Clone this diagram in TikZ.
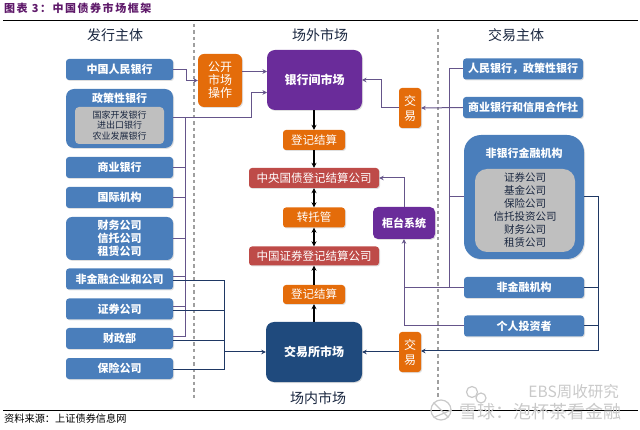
\documentclass[tikz,border=0pt]{standalone}
\usepackage{fontspec}
\setmainfont{Noto Sans CJK SC}
\newfontfamily\titlefont[LetterSpace=14]{Noto Sans CJK SC}
\usetikzlibrary{arrows.meta,shadows}
\definecolor{bankblue}{HTML}{4A7EBB}
\definecolor{bankorange}{HTML}{E46C0A}
\definecolor{bankpurple}{HTML}{6A2C9A}
\definecolor{banknavy}{HTML}{1F4A7D}
\definecolor{bankred}{HTML}{BE4B48}
\definecolor{bankgrey}{HTML}{BFBFBF}
\definecolor{linepurple}{HTML}{65558A}
\definecolor{linenavy}{HTML}{1F3864}
\definecolor{headtext}{HTML}{1A2740}
\definecolor{titletext}{HTML}{5F1A6A}
\definecolor{marktext}{HTML}{C9C9C9}
\newcommand{\fsize}[1]{\fontsize{#1}{#1}\selectfont}
\tikzset{
    boxbase/.style={inner sep=0pt,align=center,text=white,
        drop shadow={shadow xshift=1pt,shadow yshift=-1pt,opacity=0.25}},
    bluebox/.style={boxbase,fill=bankblue,rounded corners=3pt,font=\fsize{11}\bfseries},
    orangebox/.style={boxbase,fill=bankorange,rounded corners=3pt,font=\fsize{11.5}},
    redbox/.style={boxbase,fill=bankred,rounded corners=3pt,font=\fsize{11.5}},
    greybox/.style={inner sep=0pt,align=center,fill=bankgrey,text=headtext},
    headlabel/.style={inner sep=0pt,text=headtext,font=\fsize{14}},
    purpleline/.style={draw=linepurple,line width=1pt},
    navyline/.style={draw=linenavy,line width=1pt},
    flowarrow/.style={-{Stealth[length=4.5pt,width=4.5pt]}},
    blackarrow/.style={draw=black,line width=1.4pt,-{Stealth[length=5pt,width=5pt]}},
    bothblack/.style={draw=black,line width=1.4pt,{Stealth[length=5pt,width=5pt]}-{Stealth[length=5pt,width=5pt]}},
    guide/.style={draw=gray!75,line width=1.1pt,dashed,dash pattern=on 3.5pt off 3pt},
    markline/.style={draw=marktext,line width=1.2pt}
}
\begin{document}
\begin{tikzpicture}[x=1pt,y=-1pt]
    \useasboundingbox (0,0) rectangle (640,430);

    \node[inner sep=0pt,anchor=west,text=titletext,font=\titlefont\fsize{11}\bfseries] (title) at (4,8.5) {图表 3：中国债券市场框架};
    \node[inner sep=0pt,anchor=west,text=black,font=\fsize{10.2}] (source) at (4,418.5) {资料来源：上证债券信息网};
    \coordinate (topa) at (3,20.5);
    \coordinate (topb) at (638,20.5);
    \coordinate (bota) at (3,410);
    \coordinate (botb) at (638,410);
    \draw[black,line width=0.8pt] (topa) -- (topb);
    \draw[black,line width=0.8pt] (bota) -- (botb);

    \coordinate (dasha) at (194,24);
    \coordinate (dashb) at (194,401);
    \coordinate (dashc) at (438,29);
    \coordinate (dashd) at (438,401);
    \draw[guide] (dasha) -- (dashb);
    \draw[guide] (dashc) -- (dashd);

    \node[headlabel] (issuers) at (115,35) {发行主体};
    \node[headlabel] (otc) at (320,35) {场外市场};
    \node[headlabel] (traders) at (516,35) {交易主体};
    \node[headlabel] (onsite) at (318,398) {场内市场};

    % issuers
    \node[bluebox,minimum width=107pt,minimum height=21pt] (pboc) at (119.5,69.5) {中国人民银行};
    \node[bluebox,rounded corners=8pt,minimum width=107pt,minimum height=59pt] (policy) at (119.5,118.5) {};
    \node[inner sep=0pt,text=white,font=\fsize{11}\bfseries] (policytitle) at (119.5,98) {政策性银行};
    \node[greybox,rounded corners=4pt,minimum width=89pt,minimum height=37pt,font=\fontsize{9}{10.5}\selectfont] (policyin) at (119.5,125.5) {国家开发银行\\进出口银行\\农业发展银行};
    \node[bluebox,minimum width=107pt,minimum height=21pt] (commerce) at (119.5,167.5) {商业银行};
    \node[bluebox,minimum width=107pt,minimum height=21pt] (intl) at (119.5,197.5) {国际机构};
    \node[bluebox,rounded corners=6pt,minimum width=107pt,minimum height=43pt,font=\fontsize{11}{13}\selectfont\bfseries] (finance) at (119.5,238.5) {财务公司\\信托公司\\租赁公司};
    \node[bluebox,minimum width=107pt,minimum height=21pt] (nonfin) at (119.5,279) {非金融企业和公司};
    \node[bluebox,minimum width=107pt,minimum height=21pt] (secur) at (119.5,309) {证券公司};
    \node[bluebox,minimum width=107pt,minimum height=21pt] (mof) at (119.5,338.5) {财政部};
    \node[bluebox,minimum width=107pt,minimum height=21pt] (insur) at (119.5,368.5) {保险公司};

    % markets
    \node[orangebox,rounded corners=6pt,minimum width=44pt,minimum height=53pt,font=\fontsize{12}{13}\selectfont] (openmkt) at (220,80.5) {公开\\市场\\操作};
    \node[boxbase,fill=bankpurple,rounded corners=8pt,minimum width=95pt,minimum height=60pt,font=\fsize{12}\bfseries] (interbank) at (314.5,80) {银行间市场};
    \node[orangebox,minimum width=62pt,minimum height=20pt] (clear) at (314,140) {登记结算};
    \node[redbox,minimum width=130pt,minimum height=20pt] (ccdc) at (314,178) {中央国债登记结算公司};
    \node[orangebox,minimum width=62pt,minimum height=20pt] (transfer) at (314,217.5) {转托管};
    \node[redbox,minimum width=130pt,minimum height=19pt] (csdc) at (314,256) {中国证券登记结算公司};
    \node[orangebox,minimum width=62pt,minimum height=19pt] (clearb) at (314,294.5) {登记结算};
    \node[boxbase,fill=banknavy,rounded corners=8pt,minimum width=96pt,minimum height=60pt,font=\fsize{12}\bfseries] (exchange) at (314,352) {交易所市场};
    \node[orangebox,minimum width=22pt,minimum height=40pt,font=\fontsize{12}{15}\selectfont] (tradea) at (410,108) {交\\易};
    \node[orangebox,minimum width=22pt,minimum height=40pt,font=\fontsize{12}{15}\selectfont] (tradeb) at (410,352) {交\\易};
    \node[boxbase,fill=bankpurple,rounded corners=5pt,minimum width=62pt,minimum height=32pt,font=\fsize{11}\bfseries] (counter) at (404,223) {柜台系统};

    % traders
    \node[bluebox,minimum width=120pt,minimum height=21pt] (pbocb) at (523,69) {人民银行，政策性银行};
    \node[bluebox,minimum width=120pt,minimum height=21pt] (credit) at (523,107.5) {商业银行和信用合作社};
    \node[bluebox,rounded corners=17pt,minimum width=120pt,minimum height=124pt] (nonbank) at (524,197) {};
    \node[inner sep=0pt,text=white,font=\fsize{11}\bfseries] (nonbanktitle) at (524,153) {非银行金融机构};
    \node[greybox,rounded corners=12pt,minimum width=100pt,minimum height=83pt,font=\fontsize{10.5}{13}\selectfont] (nonbankin) at (525,210.5) {证券公司\\基金公司\\保险公司\\信托投资公司\\财务公司\\租赁公司};
    \node[bluebox,minimum width=120pt,minimum height=21pt] (nonfinb) at (524,287.5) {非金融机构};
    \node[bluebox,minimum width=120pt,minimum height=21pt] (person) at (524,326) {个人投资者};

    % left connectors
    \coordinate (pbocbend) at (186,69.5);
    \draw[purpleline,flowarrow] (pboc.east) -- (pbocbend) |- (openmkt.west);
    \coordinate (openout) at (242,71.5);
    \coordinate (interin) at (267,71.5);
    \draw[purpleline,flowarrow] (openout) -- (interin);
    \coordinate (policyout) at (173,118);
    \coordinate (policybend) at (251,118);
    \coordinate (interinb) at (267,92.5);
    \draw[purpleline,flowarrow] (policyout) -- (policybend) |- (interinb);
    \coordinate (issuerstop) at (185.5,118);
    \coordinate (issuersbot) at (185.5,337);
    \draw[purpleline] (issuerstop) -- (issuersbot);
    \draw[purpleline] (commerce.east) -- (commerce.east -| issuerstop);
    \draw[purpleline] (intl.east) -- (intl.east -| issuerstop);
    \draw[purpleline] (finance.east) -- (finance.east -| issuerstop);
    \coordinate (nonfinout) at (173,277);
    \coordinate (securout) at (173,307);
    \coordinate (mofout) at (173,337);
    \draw[purpleline] (nonfinout) -- (nonfinout -| issuerstop);
    \draw[purpleline] (securout) -- (securout -| issuerstop);
    \draw[purpleline] (mofout) -- (issuersbot);
    \coordinate (nonfinex) at (173,281);
    \coordinate (securex) at (173,311);
    \coordinate (mofex) at (173,341);
    \coordinate (collecttop) at (224.5,281);
    \coordinate (collectmid) at (224.5,352);
    \coordinate (collectbot) at (224.5,369);
    \draw[navyline] (nonfinex) -- (collecttop) -- (collectbot) -- (insur.east |- collectbot);
    \draw[navyline] (securex) -- (securex -| collecttop);
    \draw[navyline] (mofex) -- (mofex -| collecttop);
    \draw[navyline,flowarrow] (collectmid) -- (exchange.west);

    % centre column
    \draw[blackarrow] (interbank.south -| clear.north) -- (clear.north);
    \draw[blackarrow] (clear.south) -- (ccdc.north);
    \draw[bothblack] (ccdc.south) -- (transfer.north);
    \draw[bothblack] (transfer.south) -- (csdc.north);
    \draw[blackarrow] (clearb.north) -- (csdc.south);
    \draw[blackarrow] (exchange.north -| clearb.south) -- (clearb.south);

    % right connectors
    \coordinate (interout) at (362,80);
    \coordinate (tradebend) at (381,108);
    \draw[purpleline,flowarrow] (tradea.west) -- (tradebend) |- (interout);
    \draw[purpleline,flowarrow] (credit.west) -- (tradea.east);
    \coordinate (traderstop) at (449,69);
    \coordinate (tradersbot) at (449,287.5);
    \draw[purpleline] (pbocb.west) -- (traderstop) -- (tradersbot) -- (nonfinb.west);
    \draw[purpleline] (nonbank.west) -- (nonbank.west -| traderstop);
    \coordinate (counterup) at (404,178);
    \draw[purpleline,flowarrow] (counter.north) -- (counterup) -- (ccdc.east);
    \coordinate (counterin) at (404,326);
    \coordinate (counterjoin) at (404,287.5);
    \draw[purpleline,flowarrow] (person.west) -- (counterin) -- (counter.south);
    \draw[purpleline] (nonfinb.west) -- (counterjoin);
    \coordinate (rightbot) at (598,351);
    \coordinate (righttop) at (598,197);
    \coordinate (tradebin) at (421,351);
    \draw[navyline,flowarrow] (nonbank.east) -- (righttop) -- (rightbot) -- (tradebin);
    \draw[navyline] (nonfinb.east) -- (nonfinb.east -| righttop);
    \draw[navyline] (person.east) -- (person.east -| righttop);
    \draw[navyline,flowarrow] (tradeb.west) -- (exchange.east);

    % watermark
    \node[inner sep=0pt,anchor=east,text=marktext,font=\fsize{15.5}] (markup) at (619,392) {EBS周收研究};
    \node[inner sep=0pt,anchor=east,text=marktext,font=\fsize{18}] (markdown) at (622,411.5) {雪球：泡杯茶看金融};
    \node[circle,markline,minimum size=20pt,inner sep=0pt] (marklogo) at (441,410) {};
    \draw[markline] (marklogo.north west) -- (marklogo.south east);
    \draw[markline] (marklogo.south west) -- (marklogo.east);
    \node[circle,markline,minimum size=11pt,inner sep=0pt] (markchata) at (472,392) {};
    \node[circle,markline,minimum size=10pt,inner sep=0pt] (markchatb) at (481,398) {};
\end{tikzpicture}
\end{document}
